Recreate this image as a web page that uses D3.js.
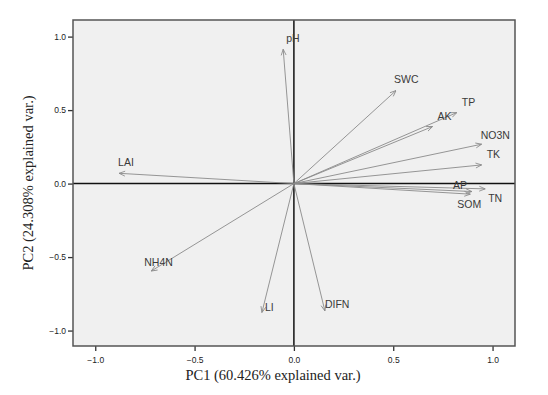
<!DOCTYPE html>
<html>
<head>
<meta charset="utf-8">
<script src="https://cdn.jsdelivr.net/npm/d3@7"></script>
<style>
  html, body { margin: 0; padding: 0; background: #fff; }
  svg { display: block; }
  .tick-label { font-family: "Liberation Sans", Arial, sans-serif; font-size: 8.5px; fill: #222; }
  .axis-title { font-family: "Liberation Serif", "Times New Roman", serif; font-size: 14.5px; fill: #222; }
  .var-label { font-family: "Liberation Sans", Arial, sans-serif; font-size: 10.5px; fill: #3a3a3a; }
</style>
</head>
<body>
<svg id="chart" width="548" height="395"></svg>
<script>
// ── Data ─────────────────────────────────────────────────────────────────────

const variables = ["pH", "SWC", "TP", "AK", "NO3N", "TK", "AP", "TN", "SOM", "LAI", "NH4N", "LI", "DIFN"];
const pc1 = [-0.054, 0.514, 0.820, 0.698, 0.945, 0.945, 0.896, 0.963, 0.888, -0.880, -0.718, -0.161, 0.156];
const pc2 = [0.914, 0.633, 0.483, 0.388, 0.268, 0.127, -0.054, -0.036, -0.072, 0.070, -0.595, -0.877, -0.866];
const tickValues = [-1.0, -0.5, 0.0, 0.5, 1.0];
const xTitle = "PC1 (60.426% explained var.)";
const yTitle = "PC2 (24.308% explained var.)";

// label nudges (px) from the arrow tip: [dx, dy to baseline]
const labelNudge = {
  pH: [3, -7], SWC: [-2, -8], TP: [5, -7], AK: [5, -7], NO3N: [-1, -5], TK: [5, -7],
  AP: [-19, -3], TN: [3, 13], SOM: [-13, 14], LAI: [-1, -7], NH4N: [-7, -5], LI: [3, -1], DIFN: [0, -3],
};

// ── Layout ───────────────────────────────────────────────────────────────────

const plot = { left: 73, top: 20, right: 515, bottom: 346 };
const svg = d3.select("#chart");

const x = d3.scaleLinear().domain([-1.112, 1.113]).range([plot.left, plot.right]);
const y = d3.scaleLinear().domain([-1.105, 1.113]).range([plot.bottom, plot.top]);

// background
svg.append("rect")
  .attr("x", plot.left).attr("y", plot.top)
  .attr("width", plot.right - plot.left).attr("height", plot.bottom - plot.top)
  .attr("fill", "#f0f0f0");

// axes
const xAxis = svg.append("g")
  .attr("transform", `translate(0,${plot.bottom})`)
  .call(d3.axisBottom(x).tickValues(tickValues).tickFormat(d3.format(".1f")).tickSize(5).tickSizeOuter(0));
const yAxis = svg.append("g")
  .attr("transform", `translate(${plot.left},0)`)
  .call(d3.axisLeft(y).tickValues(tickValues).tickFormat(d3.format(".1f")).tickSize(5).tickSizeOuter(0));

for (const g of [xAxis, yAxis]) {
  g.select(".domain").remove();
  g.selectAll(".tick line").attr("stroke", "#333").attr("stroke-width", 1.3);
  g.selectAll(".tick text").attr("class", "tick-label").attr("font-size", null).attr("font-family", null).attr("fill", null);
}
xAxis.selectAll(".tick text").attr("dy", "1.1em");
yAxis.selectAll(".tick text").attr("x", -7);

// zero lines
svg.append("line")
  .attr("x1", x(0)).attr("x2", x(0)).attr("y1", plot.top).attr("y2", plot.bottom)
  .attr("stroke", "#111").attr("stroke-width", 1.5);
svg.append("line")
  .attr("x1", plot.left).attr("x2", plot.right).attr("y1", y(0)).attr("y2", y(0))
  .attr("stroke", "#111").attr("stroke-width", 1.5);

// border
svg.append("rect")
  .attr("x", plot.left).attr("y", plot.top)
  .attr("width", plot.right - plot.left).attr("height", plot.bottom - plot.top)
  .attr("fill", "none").attr("stroke", "#555").attr("stroke-width", 1.5);

// ── Loading vectors ──────────────────────────────────────────────────────────

svg.append("defs").append("marker")
  .attr("id", "head")
  .attr("viewBox", "0 0 10 10")
  .attr("refX", 9.5).attr("refY", 5)
  .attr("markerWidth", 7).attr("markerHeight", 7)
  .attr("markerUnits", "userSpaceOnUse")
  .attr("orient", "auto")
  .append("path")
  .attr("d", "M1,1.5 L9.5,5 L1,8.5")
  .attr("fill", "none").attr("stroke", "#8a8a8a").attr("stroke-width", 1.2);

const vectors = variables.map((name, i) => ({ name, pc1: pc1[i], pc2: pc2[i] }));

svg.append("g")
  .selectAll("line")
  .data(vectors)
  .join("line")
  .attr("x1", x(0)).attr("y1", y(0))
  .attr("x2", (d) => x(d.pc1)).attr("y2", (d) => y(d.pc2))
  .attr("stroke", "#8a8a8a").attr("stroke-width", 0.9)
  .attr("marker-end", "url(#head)");

svg.append("g")
  .selectAll("text")
  .data(vectors)
  .join("text")
  .attr("class", "var-label")
  .attr("x", (d) => x(d.pc1) + labelNudge[d.name][0])
  .attr("y", (d) => y(d.pc2) + labelNudge[d.name][1])
  .text((d) => d.name);

// ── Titles ───────────────────────────────────────────────────────────────────

svg.append("text")
  .attr("class", "axis-title")
  .attr("x", 273).attr("y", 380)
  .attr("text-anchor", "middle")
  .text(xTitle);

svg.append("text")
  .attr("class", "axis-title")
  .attr("transform", "translate(33,183) rotate(-90)")
  .attr("text-anchor", "middle")
  .text(yTitle);
</script>
</body>
</html>
